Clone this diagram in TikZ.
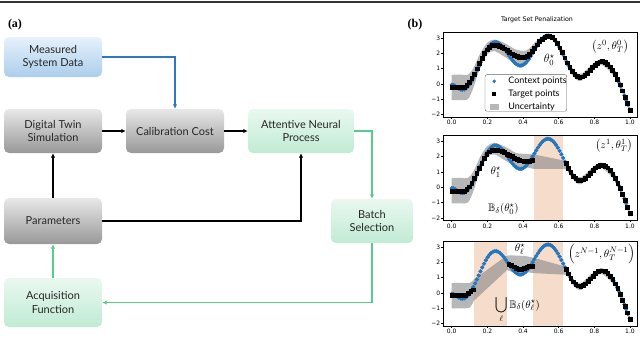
\documentclass[tikz,border=0pt]{standalone}
\usepackage{amsmath,amssymb}
\usepackage{fontspec}
\setmainfont{Lato}
\newfontfamily\tickfont{DejaVu Sans}
\newfontfamily\labelfont{Liberation Serif}
\usetikzlibrary{arrows.meta, plotmarks}

\definecolor{flowblue}{RGB}{47,118,196}
\definecolor{flowgreen}{RGB}{88,204,140}
\definecolor{ctxblue}{RGB}{36,118,188}
\definecolor{peach}{RGB}{246,221,203}
\definecolor{graytop}{RGB}{232,232,232}
\definecolor{graybot}{RGB}{152,152,152}
\definecolor{bluetop}{RGB}{230,241,251}
\definecolor{bluebot}{RGB}{172,206,236}
\definecolor{greentop}{RGB}{234,248,240}
\definecolor{greenbot}{RGB}{192,235,212}

\tikzset{
  flowbox/.style={rounded corners=5pt, align=center, text=black!85, font=\fontsize{11}{13.5}\selectfont, inner sep=2pt},
  graybox/.style={flowbox, top color=graytop, bottom color=graybot},
  bluebox/.style={flowbox, top color=bluetop, bottom color=bluebot},
  greenbox/.style={flowbox, top color=greentop, bottom color=greenbot},
  flow/.style={line width=1.3pt, -{Latex[length=4.5pt,width=4.5pt]}},
  axline/.style={line width=0.5pt},
  ticklab/.style={font=\tickfont\fontsize{6}{6}\selectfont, inner sep=1pt},
  legtext/.style={font=\fontsize{9}{9}\selectfont, inner sep=0pt, anchor=west},
  mathlab/.style={font=\fontsize{11}{11}\selectfont, inner sep=0pt},
  band/.style={fill={rgb,255:red,135;green,135;blue,135}, fill opacity=0.6},
  ctxdots/.style={only marks, mark=*, mark size=1.9pt, mark options={ctxblue}},
  tgtsq/.style={only marks, mark=square*, mark size=1.9pt, mark options={black}},
}

% frame, ticks and tick labels of one panel
\newcommand{\drawaxes}[1]{%
  \draw[axline] (-0.045,-2.15) rectangle (1.04,3.4);
  \foreach \t/\lab [count=\i] in {-2/−2,-1/−1,0/0,1/1,2/2,3/3}
    \draw[axline] (-0.045,\t) -- ++(-2.2pt,0) node[ticklab, left] (yt#1-\i) {\lab};
  \foreach \t [count=\i] in {0.0,0.2,0.4,0.6,0.8,1.0}
    \draw[axline] (\t,-2.15) -- ++(0,-2.2pt) node[ticklab, below] (xt#1-\i) {\t};
}

\begin{document}
\begin{tikzpicture}[x=1pt, y=-1pt,
  declare function={
    cs(\x,\a,\b,\c,\d)=\b+(\d-\b)*(1-cos(180*(\x-\a)/(\c-\a)))/2;
    qs(\x,\a,\b,\c,\d)=\b+(\d-\b)*(1-cos(90*(\x-\a)/(\c-\a)));
    truth(\x)=\x<0.06 ? cs(\x,0,-0.05,0.06,-0.38) : (\x<0.245 ? cs(\x,0.06,-0.38,0.245,2.74) : (\x<0.385 ? cs(\x,0.245,2.74,0.385,1.2) : (\x<0.54 ? cs(\x,0.385,1.2,0.54,3.17) : (\x<0.72 ? cs(\x,0.54,3.17,0.72,0.45) : (\x<0.84 ? cs(\x,0.72,0.45,0.84,1.47) : qs(\x,0.84,1.47,1.0,-1.72))))));
    meanA(\x)=\x<0.06 ? cs(\x,0,-0.2,0.06,-0.22) : (\x<0.235 ? cs(\x,0.06,-0.22,0.235,2.55) : (\x<0.40 ? cs(\x,0.235,2.55,0.40,1.72) : (\x<0.54 ? cs(\x,0.40,1.72,0.54,3.13) : truth(\x))));
    meanB(\x)=\x<0.06 ? cs(\x,0,-0.25,0.06,-0.27) : (\x<0.235 ? cs(\x,0.06,-0.27,0.235,2.45) : cs(\x,0.235,2.45,0.42,1.7));
    meanC(\x)=\x<0.07 ? -0.16 : cs(\x,0.07,-0.16,0.125,0.22);
    meanD(\x)=\x<0.38 ? cs(\x,0.32,1.87,0.38,1.55) : cs(\x,0.38,1.55,0.45,1.75);
  }]
\useasboundingbox (0,0) rectangle (640,338);
\fill[black!80] (0,0.6) rectangle (640,3.2);

% (a)
\node[font=\labelfont\bfseries\fontsize{12}{12}\selectfont] (lbla) at (15,25) {(a)};
\node[bluebox, minimum width=98pt, minimum height=40pt] (meas) at (53,57) {Measured\\System Data};
\node[graybox, minimum width=98pt, minimum height=44pt] (twin) at (53,131) {Digital Twin\\Simulation};
\node[graybox, minimum width=98pt, minimum height=44pt] (cost) at (175,131) {Calibration Cost};
\node[greenbox, minimum width=106pt, minimum height=44pt] (anp) at (301,131) {Attentive Neural\\Process};
\node[graybox, minimum width=98pt, minimum height=46pt] (params) at (53,221) {Parameters};
\node[greenbox, minimum width=82pt, minimum height=44pt] (batch) at (372,221) {Batch\\Selection};
\node[greenbox, minimum width=98pt, minimum height=49pt] (acq) at (53,302.5) {Acquisition\\Function};

\draw[flow, flowblue] (meas.east) -| (cost.north);
\draw[flow] (twin) -- (cost);
\draw[flow] (cost) -- (anp);
\draw[flow] (params) -- (twin);
\draw[flow] (params.east) -| (anp.south);
\draw[flow, flowgreen] (anp.east) -| (batch.north);
\draw[flow, flowgreen] (batch.south) |- (acq.east);
\draw[flow, flowgreen] (acq) -- (params);

% (b)
\node[font=\labelfont\bfseries\fontsize{12}{12}\selectfont] (lblb) at (415,25) {(b)};
\node[ticklab, font=\tickfont\fontsize{6.3}{6.3}\selectfont] (title) at (537,19.5) {Target Set Penalization};

% panel 1
\begin{scope}[shift={(451.7,84)}, x=178.3pt, y=15.3pt]
  \fill[band] plot[smooth] coordinates {(0,0.6) (0.05,0.62) (0.09,0.6) (0.12,1.0) (0.16,2.0) (0.2,2.7) (0.24,2.9) (0.3,2.65) (0.36,2.25) (0.42,2.2) (0.47,2.75) (0.53,3.27) (0.58,2.97) (0.61,2.32) (0.64,1.6) (0.67,1.02) (0.70,0.72) (0.73,0.68) (0.78,1.2) (0.84,1.62) (0.90,0.95) (0.93,0.45) (0.96,-0.35) (1.0,-1.55)}
    -- plot[smooth] coordinates {(1.0,-1.95) (0.96,-0.65) (0.93,0.15) (0.90,0.65) (0.84,1.25) (0.78,0.9) (0.73,0.22) (0.70,0.28) (0.67,0.68) (0.64,1.3) (0.61,2.08) (0.58,2.73) (0.53,3.0) (0.47,2.35) (0.42,1.3) (0.36,1.35) (0.3,1.75) (0.24,2.15) (0.2,1.95) (0.16,1.1) (0.12,-0.3) (0.09,-1.0) (0.05,-1.05) (0,-1.05)} -- cycle;
  \draw plot[ctxdots, domain=0:1, samples=100] (\x,{truth(\x)});
  \draw plot[tgtsq, domain=0:1, samples=72] (\x,{meanA(\x)});
  \drawaxes{1}
  \draw[fill=white, fill opacity=0.85, draw=black!60, line width=0.4pt, rounded corners=2pt] (0.187,-1.78) rectangle (0.645,0.61);
  \fill[ctxblue] (0.239,0.18) circle (1.9pt);
  \fill[black] (0.239,-0.65) +(-2pt,-2pt) rectangle +(2pt,2pt);
  \fill[band] (0.215,-1.68) rectangle (0.267,-1.31);
  \node[legtext] (leg1) at (0.317,0.18) {Context points};
  \node[legtext] (leg2) at (0.317,-0.65) {Target points};
  \node[legtext] (leg3) at (0.317,-1.5) {Uncertainty};
  \node[mathlab, font=\fontsize{12}{12}\selectfont] (th0) at (0.547,1.59) {$\theta_0^\star$};
  \node[mathlab] (z0) at (0.888,2.46) {$\left(z^0,\theta_T^0\right)$};
\end{scope}

% panel 2
\begin{scope}[shift={(451.7,187.3)}, x=178.3pt, y=15.3pt]
  \fill[peach] (0.463,-2.15) rectangle (0.626,3.4);
  \fill[band] plot[smooth] coordinates {(0,0.6) (0.05,0.62) (0.09,0.6) (0.12,1.0) (0.16,2.0) (0.2,2.7) (0.24,2.9) (0.3,2.65) (0.36,2.25) (0.42,2.18) (0.46,2.15)}
    -- plot[smooth] coordinates {(0.63,1.75) (0.65,1.45) (0.67,1.02) (0.70,0.72) (0.73,0.68) (0.78,1.2) (0.84,1.62) (0.90,0.95) (0.93,0.45) (0.96,-0.35) (1.0,-1.55)}
    -- plot[smooth] coordinates {(1.0,-1.95) (0.96,-0.65) (0.93,0.15) (0.90,0.65) (0.84,1.25) (0.78,0.9) (0.73,0.22) (0.70,0.28) (0.67,0.68) (0.65,1.1) (0.63,1.2)}
    -- plot[smooth] coordinates {(0.46,1.2) (0.42,1.3) (0.36,1.35) (0.3,1.75) (0.24,2.15) (0.2,1.95) (0.16,1.1) (0.12,-0.3) (0.09,-1.0) (0.05,-1.05) (0,-1.05)} -- cycle;
  \draw plot[ctxdots, domain=0:1, samples=100] (\x,{truth(\x)});
  \draw plot[tgtsq, domain=0:0.45, samples=33] (\x,{meanB(\x)});
  \draw plot[tgtsq, domain=0.64:1, samples=27] (\x,{truth(\x)});
  \drawaxes{2}
  \node[mathlab] (th1) at (0.247,1.0) {$\theta_1^\star$};
  \node[mathlab] (ball0) at (0.29,-1.42) {$\mathbb{B}_\delta(\theta_0^\star)$};
  \node[mathlab] (z1) at (0.91,2.73) {$\left(z^1,\theta_T^1\right)$};
\end{scope}

% panel 3
\begin{scope}[shift={(451.7,293)}, x=178.3pt, y=15.3pt]
  \fill[peach] (0.125,-2.15) rectangle (0.31,3.4);
  \fill[peach] (0.458,-2.15) rectangle (0.626,3.4);
  \fill[band] plot[smooth] coordinates {(0,0.65) (0.05,0.66) (0.1,0.65) (0.125,0.9)}
    -- plot[smooth] coordinates {(0.31,2.45) (0.36,2.45) (0.42,2.4) (0.46,2.3)}
    -- plot[smooth] coordinates {(0.63,1.75) (0.65,1.45) (0.67,1.02) (0.70,0.72) (0.73,0.68) (0.78,1.2) (0.84,1.62) (0.90,0.95) (0.93,0.45) (0.96,-0.35) (1.0,-1.55)}
    -- plot[smooth] coordinates {(1.0,-1.95) (0.96,-0.65) (0.93,0.15) (0.90,0.65) (0.84,1.25) (0.78,0.9) (0.73,0.22) (0.70,0.28) (0.67,0.68) (0.65,1.1) (0.63,1.2)}
    -- plot[smooth] coordinates {(0.46,1.3) (0.42,1.35) (0.36,1.3) (0.31,1.5)}
    -- plot[smooth] coordinates {(0.125,-0.5) (0.1,-0.95) (0.05,-1.0) (0,-1.0)} -- cycle;
  \draw plot[ctxdots, domain=0:1, samples=100] (\x,{truth(\x)});
  \draw plot[tgtsq, domain=0:0.122, samples=9] (\x,{meanC(\x)});
  \draw plot[tgtsq, domain=0.32:0.45, samples=10] (\x,{meanD(\x)});
  \draw plot[tgtsq, domain=0.64:1, samples=27] (\x,{truth(\x)});
  \drawaxes{3}
  \node[mathlab] (thl) at (0.383,2.86) {$\theta_\ell^\star$};
  \node[mathlab, anchor=base west] (ballu) at (0.243,-0.98) {$\displaystyle\bigcup_\ell \mathbb{B}_\delta(\theta_\ell^\star)$};
  \node[mathlab] (zn) at (0.84,2.53) {$\left(z^{N-1},\theta_T^{N-1}\right)$};
\end{scope}
\end{tikzpicture}
\end{document}
